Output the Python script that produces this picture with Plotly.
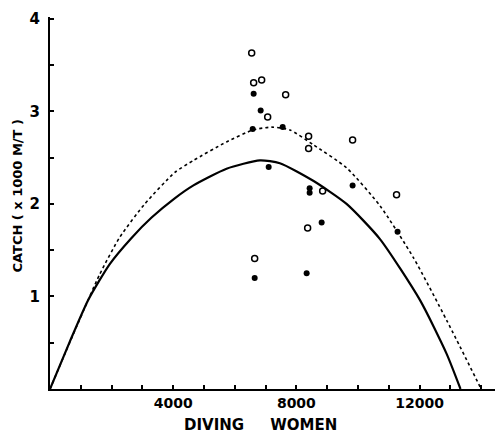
import plotly.graph_objects as go

# Observed data points (diving women, catch x1000 M/T)
open_x = [6549, 6613, 6873, 7652, 7068, 8398, 8398, 9826, 8853, 8366, 6646, 11253]
open_y = [3.63, 3.31, 3.34, 3.18, 2.94, 2.73, 2.60, 2.69, 2.14, 1.74, 1.41, 2.10]

filled_x = [6613, 6841, 6581, 7555, 7101, 8431, 8431, 9826, 8821, 11286, 6646, 8334]
filled_y = [3.19, 3.01, 2.81, 2.83, 2.40, 2.17, 2.12, 2.20, 1.80, 1.70, 1.20, 1.25]

# Fitted curves
solid_x = [0, 640, 1237, 1940, 2640, 3290, 4050, 4658, 5733, 6815, 7465, 8547, 9630, 10715, 12015, 12880, 13330]
solid_y = [0, 0.51, 0.96, 1.35, 1.63, 1.85, 2.06, 2.20, 2.38, 2.47, 2.44, 2.25, 2.00, 1.62, 0.96, 0.38, 0]

dotted_x = [0, 857, 1615, 2265, 3078, 4053, 4658, 5733, 6598, 7200, 7790, 8547, 9630, 10715, 11800, 12885, 14000]
dotted_y = [0, 0.67, 1.24, 1.64, 2.00, 2.34, 2.47, 2.67, 2.80, 2.83, 2.80, 2.64, 2.39, 1.98, 1.42, 0.74, 0]

x_ticks = list(range(0, 15000, 1000))
x_labels = [str(v) if v in (4000, 8000, 12000) else "" for v in x_ticks]
y_ticks = [i * 0.5 for i in range(0, 9)]
y_labels = [str(int(v)) if (v == int(v) and v > 0) else "" for v in y_ticks]

FONT = "DejaVu Sans"

fig = go.Figure()
fig.add_trace(go.Scatter(x=dotted_x, y=dotted_y, mode="lines",
                         line=dict(color="black", width=1.6, dash="dot", shape="spline", smoothing=0.6), hoverinfo="skip"))
fig.add_trace(go.Scatter(x=solid_x, y=solid_y, mode="lines",
                         line=dict(color="black", width=2.2, shape="spline", smoothing=0.6), hoverinfo="skip"))
fig.add_trace(go.Scatter(x=open_x, y=open_y, mode="markers",
                         marker=dict(symbol="circle-open", size=6, color="black", line=dict(width=1.5, color="black"))))
fig.add_trace(go.Scatter(x=filled_x, y=filled_y, mode="markers", marker=dict(symbol="circle", size=6, color="black")))

fig.update_layout(
    width=495, height=436,
    margin=dict(l=50, r=0, t=17, b=47),
    plot_bgcolor="white", paper_bgcolor="white",
    showlegend=False,
    font=dict(family=FONT, color="black", size=14, weight="bold"),
)
fig.update_xaxes(
    range=[0, 14450], showgrid=False, zeroline=False,
    showline=True, linecolor="black", linewidth=2,
    tickmode="array", tickvals=x_ticks, ticktext=x_labels,
    ticks="inside", ticklen=4, tickwidth=1.5, tickcolor="black",
    tickfont=dict(family=FONT, size=14, weight="bold"),
)
fig.update_yaxes(
    range=[0, 4.02], showgrid=False, zeroline=False,
    showline=True, linecolor="black", linewidth=2,
    tickmode="array", tickvals=y_ticks, ticktext=y_labels,
    ticks="inside", ticklen=4, tickwidth=1.5, tickcolor="black",
    tickfont=dict(family=FONT, size=15, weight="bold"), ticklabelstandoff=5,
)
fig.add_annotation(text="DIVING     WOMEN", xref="paper", yref="paper", x=0.472, y=0, yshift=-36,
                   showarrow=False, yanchor="middle", font=dict(family=FONT, size=15, weight="bold"))
fig.add_annotation(text="CATCH ( x 1000 M/T )", xref="paper", yref="paper", x=0, xshift=-32, y=0.52,
                   textangle=-90, showarrow=False, xanchor="center", font=dict(family=FONT, size=13, weight="bold"))

fig.write_html("out.html")
